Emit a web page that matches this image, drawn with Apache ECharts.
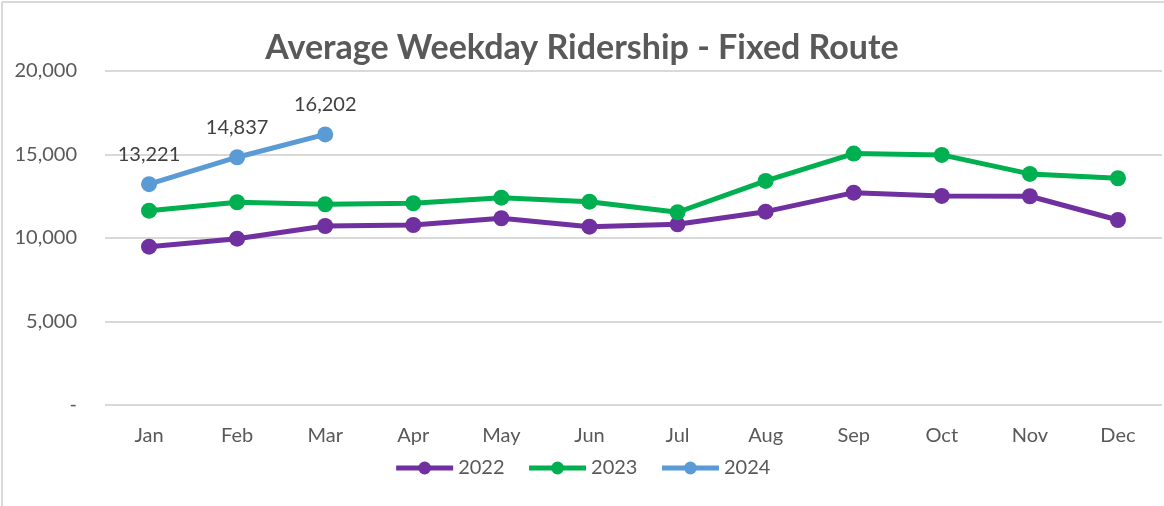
<!DOCTYPE html>
<html>
<head>
<meta charset="utf-8">
<script src="https://cdn.jsdelivr.net/npm/echarts@6/dist/echarts.min.js"></script>
<style>
html,body{margin:0;padding:0;background:#fff;}
#c{width:1164px;height:506px;}
</style>
</head>
<body>
<div id="c"></div>
<script>
const months = ['Jan','Feb','Mar','Apr','May','Jun','Jul','Aug','Sep','Oct','Nov','Dec'];
const s2022 = [9478, 9958, 10719, 10779, 11181, 10678, 10821, 11577, 12716, 12518, 12500, 11079];
const s2023 = [11637, 12140, 12020, 12080, 12416, 12177, 11541, 13417, 15054, 14976, 13837, 13579];
const s2024 = [13221, 14837, 16202];
const titleText = 'Average Weekday Ridership - Fixed Route';
const font = 'Lato, "Open Sans", sans-serif';

const chart = echarts.init(document.getElementById('c'));
function mk(name, data, color, labels) {
  return {
    name: name, type: 'line', data: data,
    symbol: 'circle', symbolSize: 16,
    lineStyle: {width: 5, color: color},
    itemStyle: {color: color},
    label: labels ? {show: true, position: 'top', distance: 12, color: '#404040', fontSize: 20, fontFamily: font,
      formatter: p => p.value.toLocaleString('en-US')} : {show: false},
    animation: false
  };
}
chart.setOption({
  animation: false,
  title: {text: titleText, left: 'center', top: 26,
    textStyle: {fontFamily: font, fontWeight: 'bold', fontSize: 34, color: '#595959'}},
  graphic: [
    {type: 'line', shape: {x1: 2, y1: 2, x2: 1164, y2: 2}, style: {stroke: '#d9d9d9', lineWidth: 2}},
    {type: 'line', shape: {x1: 2, y1: 2, x2: 2, y2: 506}, style: {stroke: '#d9d9d9', lineWidth: 2}}
  ],
  grid: {left: 105, right: 2, top: 71, bottom: 101, containLabel: false},
  legend: {bottom: 23, left: 'center', itemWidth: 57, itemHeight: 16, itemGap: 22,
    lineStyle: {width: 5},
    textStyle: {fontFamily: font, fontSize: 20, color: '#595959'},
    data: ['2022','2023','2024']},
  xAxis: {type: 'category', data: months, boundaryGap: true,
    axisLine: {show: false}, axisTick: {show: false},
    axisLabel: {fontFamily: font, fontSize: 20, color: '#595959', margin: 21}},
  yAxis: {type: 'value', min: 0, max: 20000, interval: 5000,
    axisLine: {show: false}, axisTick: {show: false},
    splitLine: {lineStyle: {color: '#d9d9d9', width: 2}},
    axisLabel: {fontFamily: font, fontSize: 20, color: '#595959', margin: 28,
      formatter: v => v === 0 ? '-' : v.toLocaleString('en-US')}},
  series: [mk('2022', s2022, '#7030a0', false), mk('2023', s2023, '#00b050', false), mk('2024', s2024, '#5b9bd5', true)]
});
</script>
</body>
</html>
